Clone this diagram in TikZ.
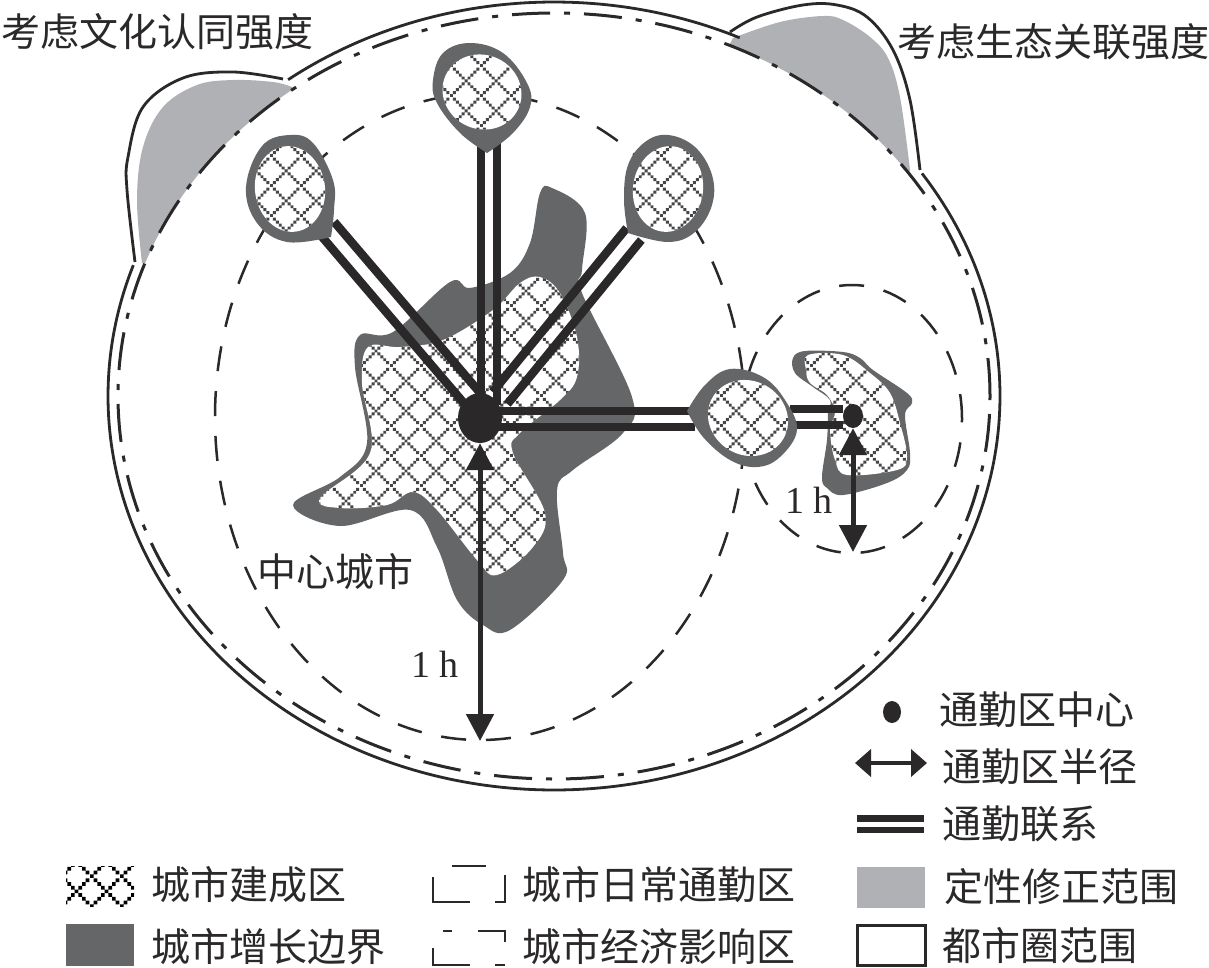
\documentclass[tikz,border=0pt]{standalone}
\usepackage{fontspec}
\setmainfont{Noto Sans CJK SC}
\newfontfamily\latinserif{Liberation Serif}
\usetikzlibrary{calc,patterns,arrows.meta,shapes.geometric}
\definecolor{ink}{HTML}{2A2829}
\definecolor{hatchink}{HTML}{454446}
\definecolor{growth}{HTML}{656668}
\definecolor{qual}{HTML}{B0B1B4}
\newcommand\hcell[3]{\pgfpathrectangle{\pgfpoint{#1*#3pt}{#2*#3pt}}{\pgfpoint{#3pt}{#3pt}}}
\pgfdeclarepatternformonly{hatchA}{\pgfpoint{0pt}{0pt}}{\pgfpoint{30pt}{30pt}}{\pgfpoint{30pt}{30pt}}{%
  \hcell{0}{0}{3}\hcell{1}{1}{3}\hcell{2}{2}{3}\hcell{3}{3}{3}\hcell{4}{4}{3}\hcell{5}{5}{3}\hcell{6}{6}{3}\hcell{7}{7}{3}\hcell{8}{8}{3}\hcell{9}{9}{3}%
  \hcell{1}{9}{3}\hcell{2}{8}{3}\hcell{3}{7}{3}\hcell{4}{6}{3}\hcell{6}{4}{3}\hcell{7}{3}{3}\hcell{8}{2}{3}\hcell{9}{1}{3}%
  \pgfusepath{fill}}
\pgfdeclarepatternformonly{hatchL}{\pgfpoint{0pt}{0pt}}{\pgfpoint{30pt}{30pt}}{\pgfpoint{30pt}{30pt}}{%
  \hcell{0}{0}{3.75}\hcell{1}{1}{3.75}\hcell{2}{2}{3.75}\hcell{3}{3}{3.75}\hcell{4}{4}{3.75}\hcell{5}{5}{3.75}\hcell{6}{6}{3.75}\hcell{7}{7}{3.75}%
  \hcell{1}{7}{3.75}\hcell{2}{6}{3.75}\hcell{3}{5}{3.75}\hcell{5}{3}{3.75}\hcell{6}{2}{3.75}\hcell{7}{1}{3.75}%
  \pgfusepath{fill}}
\tikzset{
 x=1pt,y=-1pt,
 labeltext/.style={font=\fontsize{39}{41}\selectfont,text=ink,inner sep=0pt,anchor=west},
 hourlab/.style={font=\latinserif\fontsize{38}{40}\selectfont,text=ink,inner sep=0pt},
 metro/.style={draw=ink,line width=2.8pt},
 dashdotline/.style={draw=ink,line width=3pt,dash pattern=on 38pt off 14pt on 6pt off 14pt},
 commutezone/.style={draw=ink,line width=2.5pt,dash pattern=on 25pt off 20pt},
 linkbar/.style={draw=ink,line width=8.5pt},
 hourarrow/.style={draw=ink,line width=5pt,{Triangle[length=27pt,width=27pt]}-{Triangle[length=27pt,width=27pt]}},
 blobfill/.style={fill=growth},
 whitefill/.style={fill=white},
}
\newcommand\commute[3][8pt]{%
 \draw[linkbar] ($(#2)!#1!90:(#3)$) -- ($(#3)!#1!-90:(#2)$);
 \draw[linkbar] ($(#2)!#1!-90:(#3)$) -- ($(#3)!#1!90:(#2)$);}
\begin{document}
\begin{tikzpicture}
\useasboundingbox (0,0) rectangle (1209,967);
\fill[white] (0,0) rectangle (1209,967);
% qualitative correction areas
\fill[qual] plot[smooth,tension=.6] coordinates {(142,263)(137,200)(143,147)(163,107)(197,85)(233,80)(273,82)(292,87)}
  -- plot[domain=-126.7:-159.7,samples=50] ({554+436*cos(\x)},{396+383*sin(\x)}) -- cycle;
\fill[qual] plot[smooth,tension=.6] coordinates {(733,38)(780,22)(823,16)(843,20)(870,37)(888,58)(900,97)(910,170)}
  -- plot[domain=-35.5:-66.3,samples=50] ({554+436*cos(\x)},{396+383*sin(\x)}) -- cycle;
% metropolitan boundary
\draw[metro] plot[domain=-126.6:-65.4,samples=80] ({554+446*cos(\x)},{396+394*sin(\x)});
\draw[metro] plot[domain=-34.4:199.4,samples=240] ({554+446*cos(\x)},{396+394*sin(\x)});
\draw[metro] plot[smooth,tension=.6] coordinates {(135,262)(127,190)(128,157)(143,107)(183,78)(233,72)(283,79)};
\draw[metro] plot[smooth,tension=.6] coordinates {(730,32)(757,17)(803,5)(837,5)(867,17)(893,50)(910,100)(920,170)};
\draw[dashdotline] (554,396) ellipse [x radius=436pt,y radius=383pt];
% growth boundary and built-up area, centre city
\fill[growth] plot[smooth cycle,tension=.6] coordinates {(552,188)(585,213)(582,270)(582,293)(632,397)(623,433)(573,470)(557,490)(563,553)(563,580)(510,630)(483,625)(457,600)(437,547)(410,510)(340,526)(293,505)(340,477)(367,443)(355,367)(360,335)(393,332)(450,282)(470,288)(510,273)(530,243)(540,193)};
\path[fill=white] plot[smooth cycle,tension=.6] coordinates {(540,277)(560,293)(577,337)(577,377)(560,400)(520,433)(513,453)(545,513)(533,547)(497,575)(477,560)(437,510)(413,492)(387,505)(340,508)(320,498)(370,453)(362,383)(368,347)(400,347)(443,340)(493,310)(520,283)};
\path[pattern=hatchA,pattern color=hatchink] plot[smooth cycle,tension=.6] coordinates {(540,277)(560,293)(577,337)(577,377)(560,400)(520,433)(513,453)(545,513)(533,547)(497,575)(477,560)(437,510)(413,492)(387,505)(340,508)(320,498)(370,453)(362,383)(368,347)(400,347)(443,340)(493,310)(520,283)};
% growth boundary and built-up area, second centre
\fill[growth] plot[smooth cycle,tension=.6] coordinates {(805,351)(843,352)(860,358)(873,370)(907,393)(912,403)(905,415)(910,453)(907,470)(887,483)(843,495)(827,488)(822,477)(827,440)(828,413)(830,400)(813,387)(795,373)(793,358)};
\path[fill=white] plot[smooth cycle,tension=.6] coordinates {(808,355)(843,355)(870,373)(890,393)(900,423)(907,457)(897,470)(847,475)(835,460)(830,430)(835,412)(827,395)(810,383)(806,370)};
\path[pattern=hatchA,pattern color=hatchink] plot[smooth cycle,tension=.6] coordinates {(808,355)(843,355)(870,373)(890,393)(900,423)(907,457)(897,470)(847,475)(835,460)(830,430)(835,412)(827,395)(810,383)(806,370)};
% daily commuting zones
\draw[commutezone] (480,417) ellipse [x radius=265pt,y radius=323pt];
\draw[commutezone] (852,419) ellipse [x radius=110pt,y radius=134pt];
% centres and commuting links
\node[ellipse,fill=ink,minimum width=44pt,minimum height=50pt,inner sep=0pt] (hub) at (480,418) {};
\node[ellipse,fill=ink,minimum width=20pt,minimum height=24pt,inner sep=0pt] (dot) at (853,416) {};
\coordinate (hubT) at (489,405);
\coordinate (hubL) at (472,398);
\coordinate (hubR) at (500,398);
\coordinate (hubE) at (497,419);
\coordinate (tipT) at (489,140);
\coordinate (tipL) at (327,228);
\coordinate (tipR) at (634,234);
\coordinate (tipE) at (695,419);
\coordinate (outE) at (790,417);
\coordinate (dotW) at (843,417);
\commute{tipT}{hubT}
\commute[9.5pt]{tipL}{hubL}
\commute[9.5pt]{tipR}{hubR}
\commute{hubE}{tipE}
\commute{outE}{dotW}
% satellite cities
\fill[blobfill] plot[smooth,tension=.65] coordinates {(487,153)(513,133)(530,107)(527,83)(503,53)(470,43)(443,53)(433,80)(437,103)(460,133)(487,153)} -- cycle;
\fill[whitefill] (482,92) ellipse [x radius=40pt,y radius=37pt,rotate=-25];
\path[pattern=hatchA,pattern color=hatchink] (482,92) ellipse [x radius=40pt,y radius=37pt,rotate=-25];
\fill[blobfill] plot[smooth,tension=.65] coordinates {(331,237)(334,210)(333,180)(313,143)(290,135)(262,146)(246,187)(257,223)(287,242)(331,237)} -- cycle;
\fill[whitefill] (290,189) ellipse [x radius=35pt,y radius=43pt,rotate=8];
\path[pattern=hatchA,pattern color=hatchink] (290,189) ellipse [x radius=35pt,y radius=43pt,rotate=8];
\fill[blobfill] plot[smooth,tension=.65] coordinates {(628,233)(624,200)(628,165)(645,142)(668,135)(695,147)(712,175)(712,205)(695,232)(668,242)(628,233)} -- cycle;
\fill[whitefill] (668,189) ellipse [x radius=35pt,y radius=43pt,rotate=-8];
\path[pattern=hatchA,pattern color=hatchink] (668,189) ellipse [x radius=35pt,y radius=43pt,rotate=-8];
\fill[blobfill] plot[smooth,tension=.65] coordinates {(687,411)(705,385)(730,369)(763,377)(785,400)(797,430)(780,457)(757,467)(730,460)(703,437)(687,411)} -- cycle;
\fill[whitefill] (748,418) ellipse [x radius=41pt,y radius=37pt,rotate=-30];
\path[pattern=hatchA,pattern color=hatchink] (748,418) ellipse [x radius=41pt,y radius=37pt,rotate=-30];
% radius arrows
\coordinate (hubFoot) at (480,741);
\coordinate (dotFoot) at (853,552);
\draw[hourarrow] (hub.south) -- (hubFoot);
\draw[hourarrow] (dot.south) -- (dotFoot);
% labels
\node[labeltext] (t1) at (1,32) {考虑文化认同强度};
\node[labeltext] (t2) at (897,42) {考虑生态关联强度};
\node[labeltext] (t3) at (257,572) {中心城市};
\node[hourlab] (h1) at (435,664) {1 h};
\node[hourlab] (h2) at (809,500) {1 h};
% legend, right column
\node[ellipse,fill=ink,minimum width=18pt,minimum height=22pt,inner sep=0pt] (lg1) at (892,712) {};
\node[labeltext] (lt1) at (939,710) {通勤区中心};
\coordinate (lg2a) at (855,763);
\coordinate (lg2b) at (927,763);
\draw[draw=ink,line width=4pt,{Triangle[length=16pt,width=27pt]}-{Triangle[length=16pt,width=27pt]}] (lg2a) -- (lg2b);
\node[labeltext] (lt2) at (942,767) {通勤区半径};
\draw[draw=ink,line width=6.5pt] (857,818.5) -- (924,818.5);
\draw[draw=ink,line width=6.5pt] (857,830) -- (924,830);
\node[labeltext] (lt3) at (942,824) {通勤联系};
\fill[qual] (857,867) rectangle (925,908);
\node[labeltext] (lt4) at (944,887) {定性修正范围};
\draw[draw=ink,line width=3pt] (857.5,925) rectangle (925,965.5);
\node[labeltext] (lt5) at (942,946) {都市圈范围};
% legend, left columns
\fill[white] (66,866) rectangle (134,906);
\path[pattern=hatchL,pattern color=black] (66,866) rectangle (134,906);
\node[labeltext] (lt6) at (151,885) {城市建成区};
\fill[growth] (66,924) rectangle (134,966);
\node[labeltext] (lt7) at (151,947) {城市增长边界};
\draw[draw=ink,line width=2.5pt] (433,877) -- (433,902) -- (470,902);
\draw[draw=ink,line width=2.5pt] (452,866) -- (486,866);
\draw[draw=ink,line width=2.5pt] (495,902) -- (505,902) -- (505,875);
\node[labeltext] (lt8) at (522,885) {城市日常通勤区};
\draw[draw=ink,line width=2.5pt] (433,948) -- (433,965) -- (470,965);
\draw[draw=ink,line width=2.5pt] (443,931) -- (452,931);
\draw[draw=ink,line width=2.5pt] (478,931) -- (505,931) -- (505,942);
\draw[draw=ink,line width=2.5pt] (495,965) -- (505,965);
\node[labeltext] (lt9) at (522,947) {城市经济影响区};
\end{tikzpicture}
\end{document}
